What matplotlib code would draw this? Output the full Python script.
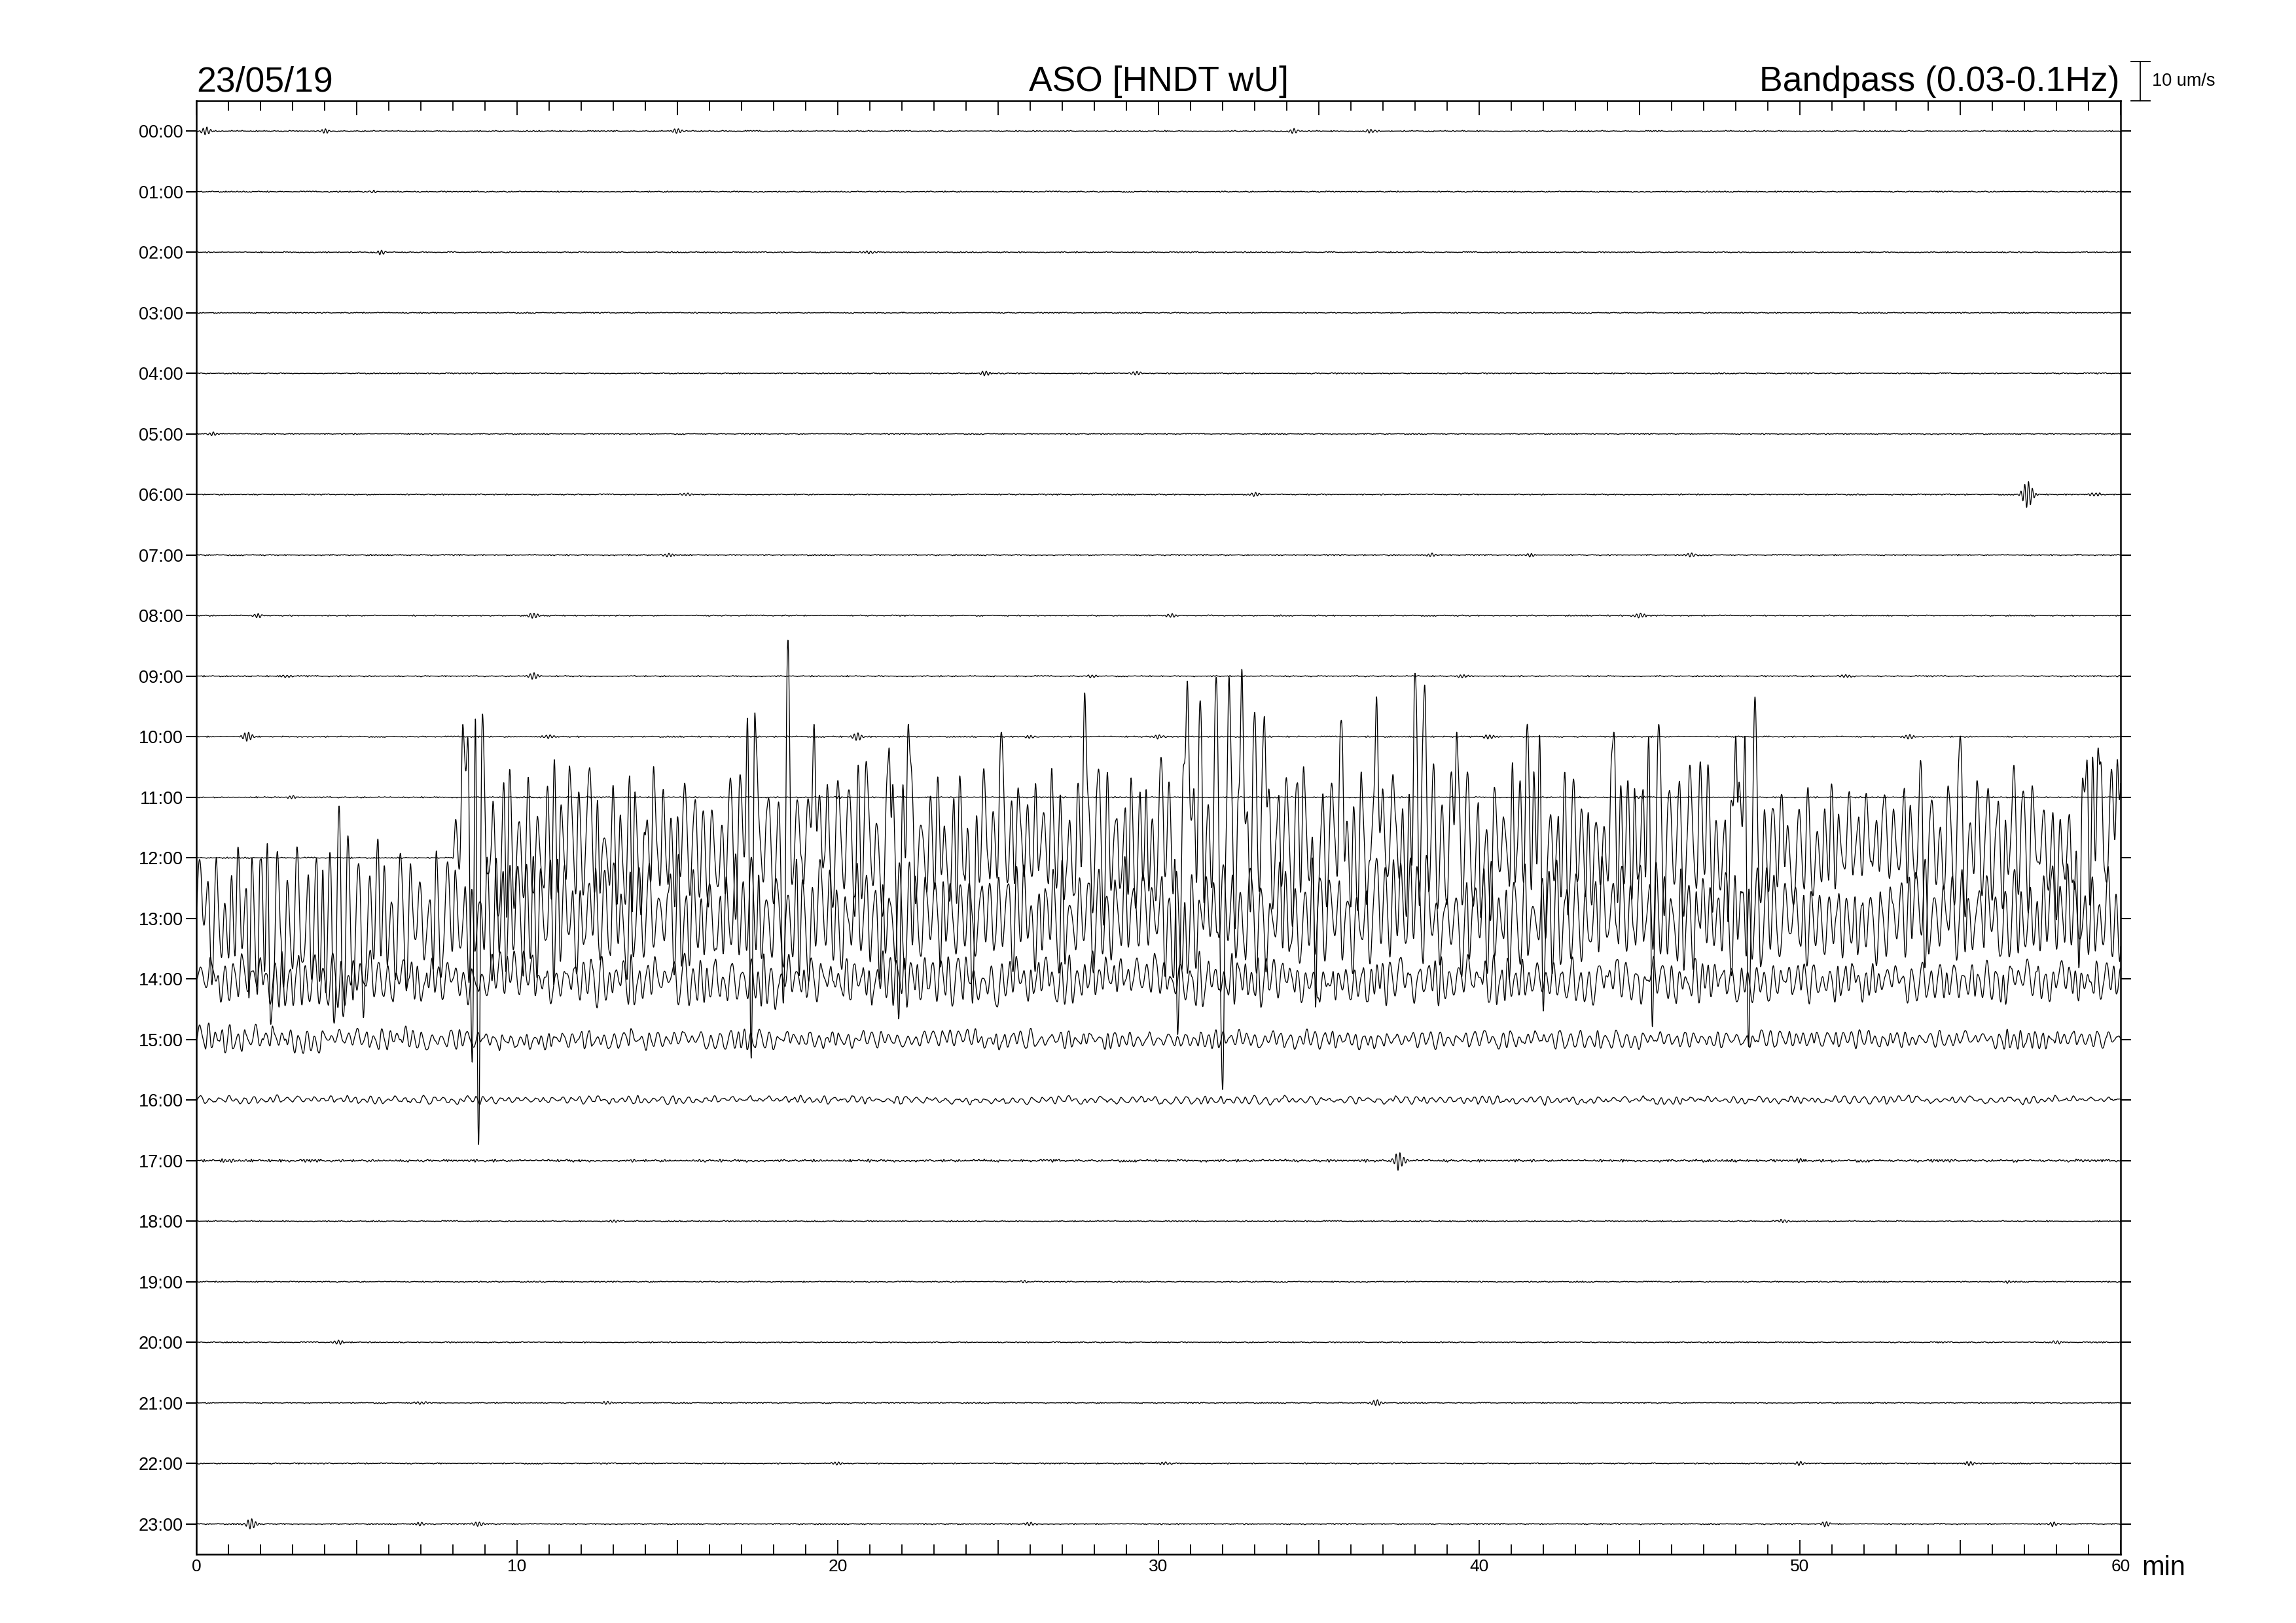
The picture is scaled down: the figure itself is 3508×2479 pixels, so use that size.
import numpy as np
import matplotlib
matplotlib.use("Agg")
import matplotlib.pyplot as plt
import matplotlib.transforms as mtrans
from matplotlib.ticker import FixedLocator, MultipleLocator, FuncFormatter, NullLocator

plt.rcParams['font.family'] = ['Liberation Sans', 'DejaVu Sans']

# ---------------- data ----------------
DATE = "23/05/19"
STATION = "ASO [HNDT wU]"
FILTER = "Bandpass (0.03-0.1Hz)"
HOUR_LABELS = [f"{h:02d}:00" for h in range(24)]
X_TICK_LABELS = [0, 10, 20, 30, 40, 50, 60]
ROW_UM = 15.42          # um/s between two hour lines (from the 10 um/s bar)
SCALE_UM = 10           # scale bar value

# envelope nodes (minutes) and peak envelopes (um/s) of the active hours
ENV_MIN = [0, 2, 4, 6, 8, 10, 12, 14, 16, 18, 20, 22, 24, 26, 28, 30,
           32, 34, 36, 38, 40, 42, 44, 46, 48, 50, 52, 54, 56, 58, 60]
ROW12_UP = [0, 0, 0, 0, 26, 24, 24, 23, 23, 25, 24, 23, 22, 23, 24, 26,
            27, 25, 25, 26, 23, 24, 23, 23, 26, 20, 21, 22, 22, 23, 24]
ROW12_DN = [0, 0, 0, 0, 17, 16, 16, 15, 15, 16, 16, 15, 14, 15, 16, 17,
            18, 16, 16, 17, 15, 16, 15, 15, 17, 13, 14, 14, 14, 15, 16]
ROW13_UP = [14, 22, 25, 23, 17, 16, 16, 15, 15, 16, 15, 15, 15, 15, 15, 16,
            16, 15, 15, 15, 15, 15, 15, 15, 15, 14, 14, 14, 13, 13, 13]
ROW13_DN = [15, 24, 25, 23, 16, 15, 15, 15, 15, 15, 15, 14, 14, 14, 14, 15,
            15, 14, 14, 14, 14, 14, 14, 14, 14, 13, 13, 12, 12, 12, 12]
ROW14_UP = [6.5, 6.5, 7, 6.5, 6.5, 6.5, 6.5, 6, 6.5, 6.5, 6, 6.5, 6.5, 6, 6.5, 6.5,
            6.5, 6.5, 6.5, 6, 6, 6, 6, 6, 5.5, 5, 5, 5, 5, 5, 5]
ROW14_DN = [7.5, 7.5, 8, 7.5, 7.5, 7.5, 7.5, 7, 7.5, 7.5, 7, 7.5, 7.5, 7, 7.5, 7.5,
            7.5, 7.5, 7.5, 7, 7, 7, 7, 7, 6.5, 6, 6, 6, 6, 6, 6]
ROW15_ENV = [4.4, 3.8, 3.2, 3.0, 2.8, 2.7, 2.6, 2.6, 2.8, 2.6, 2.6, 2.5, 2.6, 2.7, 2.6, 2.6,
             2.8, 2.6, 2.5, 2.4, 2.5, 2.4, 2.5, 2.4, 2.4, 2.4, 2.4, 2.3, 2.4, 2.4, 2.4]
ROW16_ENV = [1.2, 1.2, 1.2, 1.1, 1.2, 1.2, 1.1, 1.2, 1.2, 1.2, 1.1, 1.2, 1.2, 1.2, 1.2, 1.1,
             1.2, 1.2, 1.2, 1.1, 1.1, 1.1, 1.1, 1.1, 1.1, 1.1, 1.1, 1.1, 1.1, 1.1, 1.1]
ACTIVE_ROWS = [12, 13, 14, 15, 16]
ACTIVE_START = [8.0, 0.0, 0.0, 0.0, 0.0]        # minute where each trace starts moving
ACTIVE_PERIOD = [0.27, 0.27, 0.25, 0.26, 0.27]  # dominant period (minutes)
ACTIVE_FLOOR = [0.3, 0.3, 0.15, 0.2, 0.12]      # smallest cycle relative to envelope

# isolated large peaks: hour row, minute, value (um/s, + = upward)
SPIKE_ROW = [12] * 52 + [13] * 6
SPIKE_T = [8.31, 8.47, 8.71, 8.89, 17.2, 17.4, 18.44, 19.26, 21.6, 22.2, 25.1, 27.7,
           30.9, 31.3, 31.8, 32.2, 32.6, 33.0, 33.3, 34.9, 35.7, 36.8, 38.0, 38.3,
           39.3, 41.5, 41.9, 44.2, 45.3, 45.6, 48.0, 48.3, 48.6, 53.8, 55.0, 58.8,
           59.3, 59.9,
           8.6, 8.8, 17.3, 18.3, 21.9, 24.2, 30.6, 32.0, 34.9, 42.0, 45.4, 48.4,
           53.9, 58.7,
           0.1, 2.23, 2.32, 4.3, 4.46, 4.58]
SPIKE_AMP = [34, 33, 70, 47, 44, 46, 57, 34, 28, 34, 32, 42,
             45, 40, 46, 46, 48, 37, 36, 34, 35, 41, 47, 44,
             32, 34, 38, 32, 38, 34, 31, 39, 41, 27, 31, 25,
             28, 25,
             -52, -73, -51, -37, -41, -37, -45, -59, -38, -39, -43, -48,
             -28, -28,
             15, 26, -27, -27, 31, -25]

# small wavelets on the quiet hours: row, minute, amplitude (um/s)
EVENT_ROW = [0, 0, 0, 0, 0, 1, 2, 2, 4, 4, 5, 6, 6, 6, 6, 7, 7, 7, 7,
             8, 8, 8, 8, 9, 9, 9, 9, 9, 10, 10, 10, 10, 10, 10, 10, 11, 11, 11,
             17, 17, 17, 18, 18, 19, 19, 20, 20, 21, 21, 21,
             22, 22, 22, 22, 23, 23, 23, 23, 23, 23]
EVENT_T = [0.3, 4.0, 15.0, 34.2, 36.6, 5.5, 5.75, 21.0, 24.6, 29.3, 0.5, 15.3, 33.0, 57.1, 59.2,
           14.7, 38.5, 41.6, 46.6,
           1.9, 10.5, 30.4, 45.0, 2.8, 10.5, 27.9, 39.5, 51.4,
           1.6, 11.0, 20.6, 26.0, 30.0, 40.3, 53.4, 3.0, 20.0, 45.0,
           1.0, 37.5, 50.0, 13.0, 49.5, 25.8, 56.5, 4.4, 58.0, 7.0, 12.8, 36.8,
           20.0, 30.2, 50.0, 55.3, 1.7, 7.0, 8.8, 26.0, 50.8, 57.9]
EVENT_AMP = [0.9, 0.5, 0.6, 0.6, 0.5, 0.3, 0.5, 0.4, 0.6, 0.5, 0.4, 0.4, 0.5, 3.4, 0.5,
             0.5, 0.4, 0.4, 0.5,
             0.5, 0.6, 0.5, 0.6, 0.4, 0.8, 0.4, 0.4, 0.4,
             1.2, 0.5, 1.0, 0.4, 0.5, 0.6, 0.6, 0.4, 0.3, 0.3,
             0.4, 2.2, 0.4, 0.3, 0.4, 0.3, 0.3, 0.5, 0.4, 0.4, 0.4, 0.8,
             0.4, 0.4, 0.5, 0.6, 1.3, 0.5, 0.6, 0.4, 0.6, 0.5]
NOISE_UM = [0.18] * 17 + [0.4] + [0.18] * 6   # background level of each hour

# ---------------- rendering helpers ----------------
t = np.linspace(0, 60, 14401)


def frac(x):
    return x - np.floor(x)


def oscillation(t0, period, env_up, env_dn, key, floor=0.12, power=1.3):
    """Trace through alternating peaks/troughs whose size follows the envelopes."""
    n = int((60 - t0) / (period * 0.3)) + 4
    j = np.arange(n, dtype=float)
    q_amp = frac(0.5 * 0.7548776662 * j * j + 0.6180339887 * j + key)
    q_len = frac(0.5 * 0.5698402910 * j * j + 0.4142135624 * j + 1.7 * key)
    half = period / 2 * (0.6 + 0.8 * q_len)
    tau = t0 + np.concatenate([[0.0], np.cumsum(half)])[:n]
    sign = np.where(j % 2 == 1, 1.0, -1.0)
    up = np.interp(tau, ENV_MIN, env_up)
    dn = np.interp(tau, ENV_MIN, env_dn)
    amp = np.where(sign > 0, up, dn) * (floor + (1 - floor) * q_amp ** power)
    ext = sign * amp
    ext[0] = 0.0
    idx = np.clip(np.searchsorted(tau, t, side='right') - 1, 0, n - 2)
    s = np.clip((t - tau[idx]) / (tau[idx + 1] - tau[idx]), 0, 1)
    v = ext[idx] + (ext[idx + 1] - ext[idx]) * (1 - np.cos(np.pi * s)) / 2
    v[t < t0] = 0.0
    return v


def wavelet(tc, a, period=0.12, width=0.12):
    return a * np.exp(-0.5 * ((t - tc) / width) ** 2) * np.sin(2 * np.pi * (t - tc) / period)


# ---------------- figure ----------------
W, H = 3508, 2479
fig = plt.figure(figsize=(W / 100, H / 100), dpi=100)
ax = fig.add_axes([300 / W, (H - 2374) / H, 2940 / W, (2374 - 154) / H])

ENVS = {12: (ROW12_UP, ROW12_DN), 13: (ROW13_UP, ROW13_DN), 14: (ROW14_UP, ROW14_DN),
        15: (ROW15_ENV, ROW15_ENV), 16: (ROW16_ENV, ROW16_ENV)}

for row in range(24):
    lvl = NOISE_UM[row]
    flat = [lvl] * len(ENV_MIN)
    v = oscillation(0.0, 0.09, flat, flat, 0.37 * row + 0.11, floor=0.0, power=2.0)
    if row in ACTIVE_ROWS:
        k = ACTIVE_ROWS.index(row)
        eu, ed = ENVS[row]
        v = v + oscillation(ACTIVE_START[k], ACTIVE_PERIOD[k], eu, ed, 0.23 * k + 0.05,
                            floor=ACTIVE_FLOOR[k], power=1.1)
        # weaker shorter-period component that makes the shapes irregular
        eu2 = [0.2 * e for e in eu]
        ed2 = [0.2 * e for e in ed]
        v = v + oscillation(ACTIVE_START[k], ACTIVE_PERIOD[k] * 0.62, eu2, ed2,
                            0.41 * k + 0.29, floor=0.0, power=1.0)
    for r, tc, a in zip(EVENT_ROW, EVENT_T, EVENT_AMP):
        if r == row:
            v = v + wavelet(tc, a)
    for r, ts, a in zip(SPIKE_ROW, SPIKE_T, SPIKE_AMP):
        if r == row:
            g = np.exp(-0.5 * ((t - ts) / 0.05) ** 2)
            v = v * (1 - g) + a * g
    ax.plot(t, row - v / ROW_UM, color='black', lw=0.95, solid_joinstyle='round')

ax.set_xlim(0, 60)
ax.set_ylim(23.5, -0.5)

ax.xaxis.set_major_locator(FixedLocator(list(range(0, 61, 5))))
ax.xaxis.set_minor_locator(MultipleLocator(1))
ax.xaxis.set_major_formatter(FuncFormatter(
    lambda v, p: f"{int(round(v))}" if int(round(v)) in X_TICK_LABELS else ""))
ax.tick_params(axis='x', which='major', direction='in', length=16, width=1.3,
               top=True, bottom=True, labelsize=19, pad=5)
ax.tick_params(axis='x', which='minor', direction='in', length=10.8, width=1.3,
               top=True, bottom=True)
ax.set_yticks(range(24))
ax.set_yticklabels(HOUR_LABELS)
ax.yaxis.set_minor_locator(NullLocator())
ax.tick_params(axis='y', which='major', direction='out', length=11.5, width=1.5,
               left=True, right=True, labelsize=19.5, pad=3)
for s in ax.spines.values():
    s.set_linewidth(1.8)

# titles
base_y = 1 - 139 / H
fig.text(300 / W, base_y, DATE, fontsize=38.5, ha='left', va='baseline')
fig.text(1770 / W, base_y, STATION, fontsize=38.5, ha='center', va='baseline')
fig.text(3238 / W, base_y, FILTER, fontsize=38.5, ha='right', va='baseline')
fig.text(3272 / W, 1 - 2406 / H, "min", fontsize=30, ha='left', va='baseline')

# scale bar (10 um/s) just above the top-right corner
tr = mtrans.blended_transform_factory(ax.transAxes, ax.transData)
y0 = -0.5
y1 = -0.5 - SCALE_UM / ROW_UM
xb = (3270 - 300) / 2940
xc0, xc1 = (3256 - 300) / 2940, (3285 - 300) / 2940
ax.plot([xb, xb], [y0, y1], transform=tr, clip_on=False, color='black', lw=1.3)
ax.plot([xc0, xc1], [y0, y0], transform=tr, clip_on=False, color='black', lw=1.3)
ax.plot([xc0, xc1], [y1, y1], transform=tr, clip_on=False, color='black', lw=1.3)
ax.text((3288 - 300) / 2940, (y0 + y1) / 2, f"{SCALE_UM} um/s", transform=tr,
        fontsize=19.5, ha='left', va='center')

fig.savefig("out.png", dpi=100)
